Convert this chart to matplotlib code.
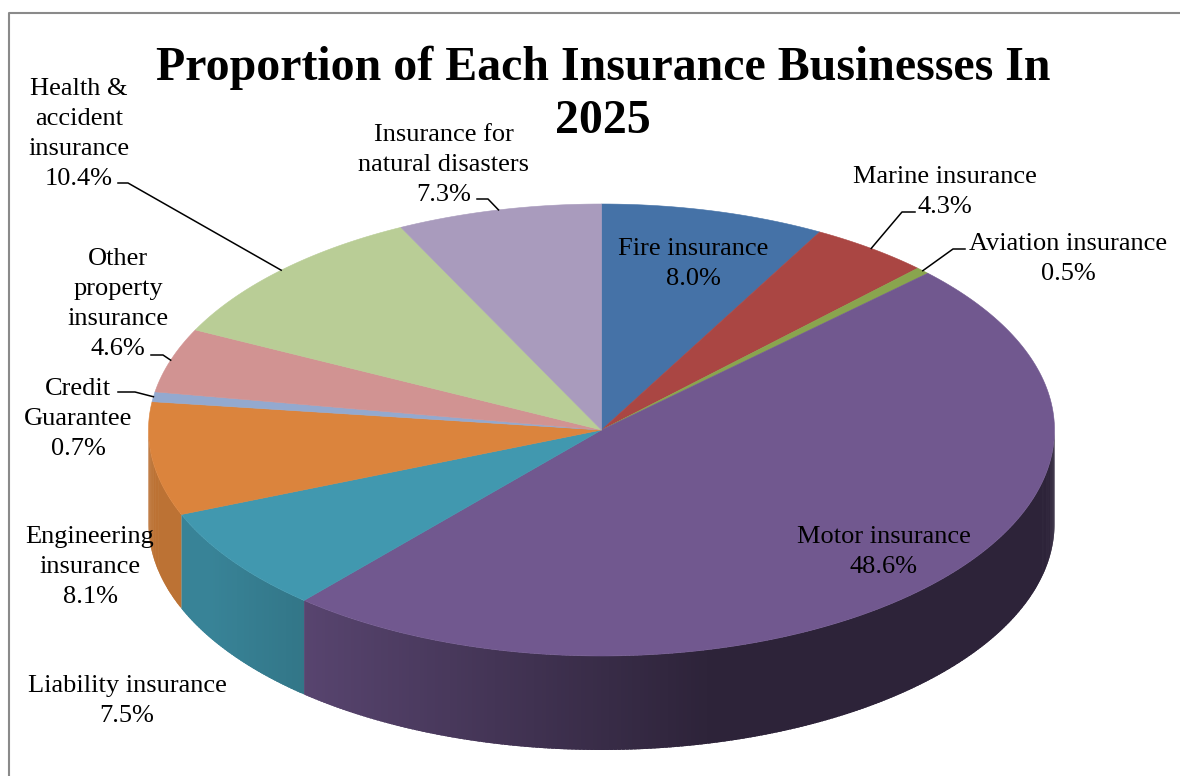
import numpy as np
import matplotlib
matplotlib.use("Agg")
import matplotlib.pyplot as plt
from matplotlib.patches import Polygon
from matplotlib.collections import PolyCollection

# --- DATOS ---
labels = ['Fire insurance', 'Marine insurance', 'Aviation insurance', 'Motor insurance',
          'Liability insurance', 'Engineering insurance', 'Credit Guarantee',
          'Other property insurance', 'Health & accident insurance',
          'Insurance for natural disasters']
shares = [8.0, 4.3, 0.5, 48.6, 7.5, 8.1, 0.7, 4.6, 10.4, 7.3]
colors = ['#4572A7', '#AA4643', '#89A54E', '#71588F', '#4198AF',
          '#DB843D', '#93A9CF', '#D19392', '#B9CD96', '#A99BBD']
title_lines = ['Proportion of Each Insurance Businesses In', '2025']

# texto de cada etiqueta (lineas) y su posicion: x centro, baseline de la primera linea
label_lines = [['Fire insurance'], ['Marine insurance'], ['Aviation insurance'],
               ['Motor insurance'], ['Liability insurance'], ['Engineering', 'insurance'],
               ['Credit', 'Guarantee'], ['Other', 'property', 'insurance'],
               ['Health &', 'accident', 'insurance'], ['Insurance for', 'natural disasters']]
label_pos = [(693, 255), (945, 183), (1068, 250), (884, 543), (127, 692),
             (90, 543), (78, 395), (118, 265), (79, 95), (444, 141)]
# lineas guia: (x inicio, x codo, y) o None
leaders = [None, (915, 902, 212), (965, 953, 249), None, None, None,
           (118, 135, 392), (151, 163, 355), (118, 128, 183), (477, 488, 199)]

# --- GEOMETRIA (pixeles) ---
W, H = 1180, 776
CX, CY = 601.5, 430
RX, RY = 453, 226
DEPTH = 94
LINE_H = 30

def pt(theta):
    t = np.radians(theta)
    return CX + RX * np.cos(t), CY - RY * np.sin(t)

fig = plt.figure(figsize=(W / 100, H / 100), dpi=100)
ax = fig.add_axes([0, 0, 1, 1])
ax.set_xlim(0, W)
ax.set_ylim(H, 0)
ax.axis('off')

# borde del area del grafico
ax.plot([9, 9, W + 5], [H + 5, 13, 13], color='#8a8a8a', lw=1.5, solid_capstyle='butt')

cum = np.concatenate([[0], np.cumsum(shares)])
starts = 90 - 3.6 * cum[:-1]
ends = 90 - 3.6 * cum[1:]

# --- LATERALES (solo la mitad de adelante) con sombreado ---
polys, fcs = [], []
for a0, a1, c in zip(starts, ends, colors):
    hi, lo = min(a0, 0), max(a1, -180)
    if hi <= lo:
        continue
    base = np.array(matplotlib.colors.to_rgb(c))
    ts = np.linspace(hi, lo, max(int((hi - lo) / 0.5), 2) + 1)
    for t0, t1 in zip(ts[:-1], ts[1:]):
        t1x = max(t1 - 0.4, lo)  # se solapa con la siguiente franja para que no se vean costuras
        seg = np.linspace(t0, t1x, 4)
        xs, ys = pt(seg)
        polys.append(list(zip(xs, ys)) + list(zip(xs[::-1], ys[::-1] + DEPTH)))
        tm = np.radians((t0 + t1) / 2)
        f = np.clip(0.50 - 0.42 * np.cos(tm), 0.40, 0.86)
        fcs.append(tuple(base * f))
ax.add_collection(PolyCollection(polys, facecolors=fcs, edgecolors='none', linewidths=0))

# --- CARA SUPERIOR ---
for a0, a1, c in zip(starts, ends, colors):
    ts = np.linspace(a0, a1, max(int(abs(a0 - a1)), 2) + 1)
    xs, ys = pt(ts)
    verts = [(CX, CY)] + list(zip(xs, ys))
    ax.add_patch(Polygon(verts, closed=True, facecolor=c, edgecolor=c, lw=0.4))

# --- TITULO ---
font = ['Liberation Serif', 'DejaVu Serif']
ax.text(603, 80, title_lines[0], ha='center', va='baseline', fontsize=34.5,
        fontweight='bold', family=font)
ax.text(603, 133, title_lines[1], ha='center', va='baseline', fontsize=34.5,
        fontweight='bold', family=font)

# --- ETIQUETAS ---
for i in range(len(labels)):
    x, y = label_pos[i]
    lines = label_lines[i] + [f'{shares[i]:.1f}%']
    for k, s in enumerate(lines):
        ax.text(x, y + k * LINE_H, s, ha='center', va='baseline', fontsize=19,
                family=font, color='black')
    if leaders[i] is not None:
        xa, xb, yl = leaders[i]
        ex, ey = pt((starts[i] + ends[i]) / 2)
        ax.plot([xa, xb, ex], [yl, yl, ey], color='black', lw=1.1)

fig.savefig('out.png', dpi=100, facecolor='white')
